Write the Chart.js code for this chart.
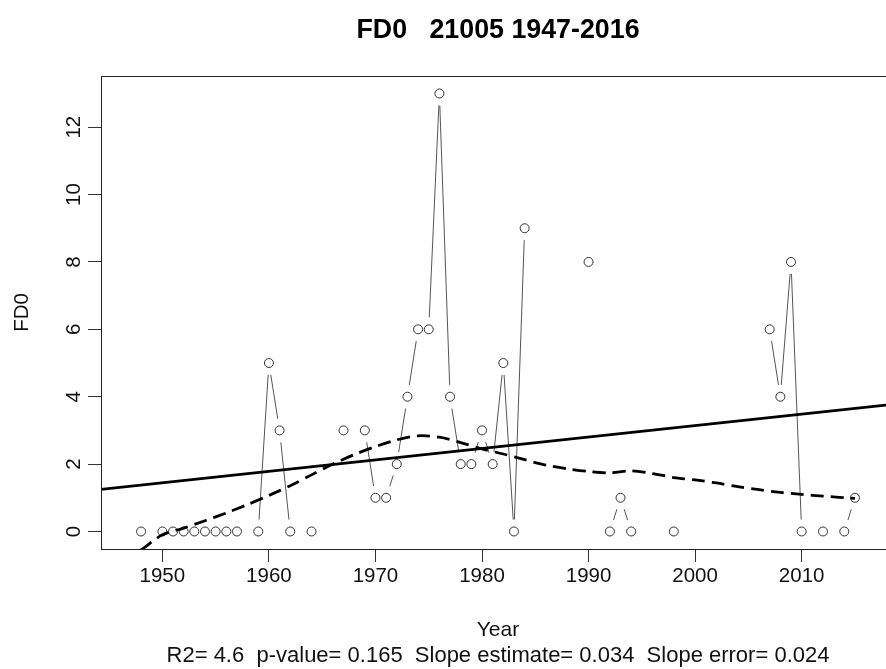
<!DOCTYPE html>
<html lang="en">
<head>
<meta charset="UTF-8">
<title>FD0 21005 1947-2016</title>
<style>
  html, body { margin: 0; padding: 0; background: #fff; overflow: hidden; }
  #wrap { width: 900px; height: 669px; }
</style>
</head>
<body>
<div id="wrap"><canvas id="chart" width="900" height="669"></canvas></div>
<script src="https://cdn.jsdelivr.net/npm/chart.js"></script>
<script>
// observed FD0 per year (null = no observation)
const years = [
  1947, 1948, 1949,
  1950, 1951, 1952, 1953, 1954, 1955, 1956, 1957, 1958, 1959,
  1960, 1961, 1962, 1963, 1964, 1965, 1966, 1967, 1968, 1969,
  1970, 1971, 1972, 1973, 1974, 1975, 1976, 1977, 1978, 1979,
  1980, 1981, 1982, 1983, 1984, 1985, 1986, 1987, 1988, 1989,
  1990, 1991, 1992, 1993, 1994, 1995, 1996, 1997, 1998, 1999,
  2000, 2001, 2002, 2003, 2004, 2005, 2006, 2007, 2008, 2009,
  2010, 2011, 2012, 2013, 2014, 2015, 2016
];
const fd0 = [
  null, 0, null,
  0, 0, 0, 0, 0, 0, 0, 0, null, 0,
  5, 3, 0, null, 0, null, null, 3, null, 3,
  1, 1, 2, 4, 6, 6, 13, 4, 2, 2,
  3, 2, 5, 0, 9, null, null, null, null, null,
  8, null, 0, 1, 0, null, null, null, 0, null,
  null, null, null, null, null, null, null, 6, 4, 8,
  0, null, 0, null, 0, 1, null
];

// linear trend (ends at the plot edges)
const trendYears = [1944.24, 2018.76];
const trendValues = [1.25, 3.78];

// smoothed curve (dashed)
const smoothYears = [1948, 1950, 1952, 1954, 1956, 1958, 1960, 1962, 1964, 1966, 1968,
  1970, 1972, 1974, 1976, 1978, 1980, 1982, 1984, 1986, 1988, 1990, 1992, 1994,
  1996, 1998, 2000, 2002, 2004, 2006, 2008, 2010, 2012, 2015];
const smoothValues = [-0.55, -0.1, 0.1, 0.32, 0.55, 0.8, 1.07, 1.36, 1.68, 2.0, 2.28,
  2.52, 2.72, 2.84, 2.8, 2.64, 2.45, 2.3, 2.13, 1.97, 1.86, 1.78, 1.74, 1.8,
  1.72, 1.6, 1.53, 1.44, 1.33, 1.24, 1.16, 1.1, 1.05, 0.98];

const xTicks = [1950, 1960, 1970, 1980, 1990, 2000, 2010];
const yTicks = [0, 2, 4, 6, 8, 10, 12];

const statsLine = 'R2= 4.6  p-value= 0.165  Slope estimate= 0.034  Slope error= 0.024';

const fontFamily = "'Liberation Sans', Arial, sans-serif";
const obs = years.map((y, i) => ({ x: y, y: fd0[i] }));

// box around the plotting region, like R's box()
const boxPlugin = {
  id: 'box',
  afterDraw(chart) {
    const a = chart.chartArea;
    const ctx = chart.ctx;
    ctx.save();
    ctx.strokeStyle = '#222';
    ctx.lineWidth = 1;
    ctx.strokeRect(Math.round(a.left) + 0.5, Math.round(a.top) + 0.5,
      Math.round(a.right - a.left), Math.round(a.bottom - a.top));
    ctx.restore();
  }
};

new Chart(document.getElementById('chart').getContext('2d'), {
  type: 'line',
  data: {
    datasets: [
      {
        // thin connecting segments, white discs make the gaps around points
        data: obs,
        borderColor: '#555',
        borderWidth: 1,
        pointRadius: 12,
        pointBorderWidth: 0,
        pointBackgroundColor: '#fff',
        spanGaps: false,
        order: 4
      },
      {
        data: obs,
        showLine: false,
        pointRadius: 4.5,
        pointBorderWidth: 1,
        pointBorderColor: '#333',
        pointBackgroundColor: '#fff',
        order: 3
      },
      {
        data: trendYears.map((y, i) => ({ x: y, y: trendValues[i] })),
        borderColor: '#000',
        borderWidth: 2.8,
        pointRadius: 0,
        order: 2
      },
      {
        data: smoothYears.map((y, i) => ({ x: y, y: smoothValues[i] })),
        borderColor: '#000',
        borderWidth: 2.8,
        borderDash: [13, 7],
        pointRadius: 0,
        tension: 0.3,
        order: 1
      }
    ]
  },
  options: {
    responsive: false,
    animation: false,
    events: [],
    layout: { padding: { left: 0, right: 5, top: 0, bottom: 0 }, autoPadding: false },
    plugins: {
      legend: { display: false },
      tooltip: { enabled: false },
      title: {
        display: true,
        fullSize: false,
        text: 'FD0   21005 1947-2016',
        color: '#000',
        font: { family: fontFamily, size: 26.8, weight: 'bold', lineHeight: 1.2 },
        padding: { top: 14.1, bottom: 29.7 }
      },
      subtitle: {
        display: true,
        position: 'bottom',
        fullSize: false,
        text: statsLine,
        color: '#111',
        font: { family: fontFamily, size: 22, lineHeight: 1.2 },
        padding: { top: 0, bottom: 0 }
      }
    },
    scales: {
      x: {
        type: 'linear',
        min: 1944.24,
        max: 2018.76,
        afterFit: s => { s.height = 93.6; },
        afterBuildTicks: s => { s.ticks = xTicks.map(v => ({ value: v })); },
        grid: { drawOnChartArea: false, drawTicks: true, tickLength: 13, color: '#333', lineWidth: 1 },
        border: { display: false },
        ticks: {
          color: '#111', padding: 2, maxRotation: 0, autoSkip: false,
          font: { family: fontFamily, size: 20.5 },
          callback: v => String(v)
        },
        title: {
          display: true,
          text: 'Year',
          color: '#111',
          font: { family: fontFamily, size: 21, lineHeight: 1.2 },
          padding: { top: 0, bottom: 0 }
        }
      },
      y: {
        type: 'linear',
        min: -0.52,
        max: 13.52,
        afterFit: s => { s.width = 101; },
        afterBuildTicks: s => { s.ticks = yTicks.map(v => ({ value: v })); },
        grid: { drawOnChartArea: false, drawTicks: true, tickLength: 13, color: '#333', lineWidth: 1 },
        border: { display: false },
        ticks: {
          color: '#111', padding: 2, minRotation: 90, maxRotation: 90, crossAlign: 'center',
          font: { family: fontFamily, size: 20.5 }
        },
        title: {
          display: true,
          text: 'FD0',
          color: '#111',
          font: { family: fontFamily, size: 20.5, lineHeight: 1.2 },
          padding: { top: 10, bottom: 0 }
        }
      }
    }
  },
  plugins: [boxPlugin]
});
</script>
</body>
</html>
